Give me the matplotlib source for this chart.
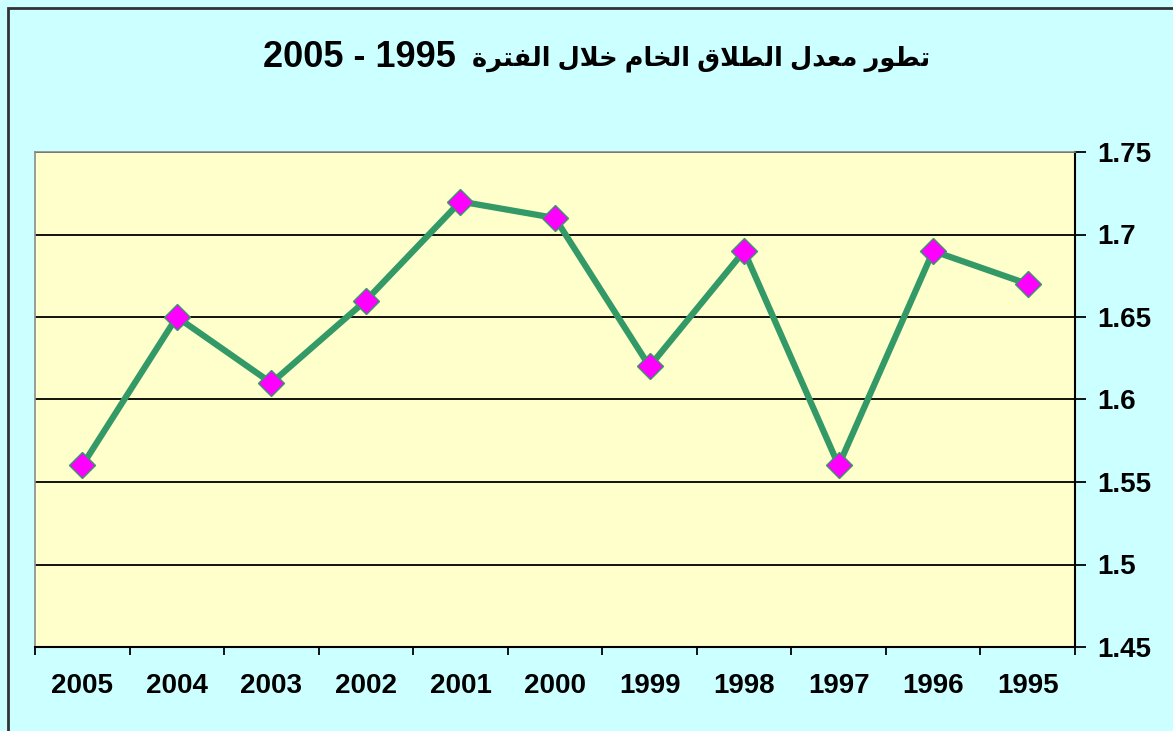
import matplotlib
matplotlib.use("Agg")
import matplotlib.pyplot as plt
from matplotlib.patches import Rectangle
from matplotlib.ticker import FixedLocator, NullFormatter

years = ['2005', '2004', '2003', '2002', '2001', '2000',
         '1999', '1998', '1997', '1996', '1995']
rates = [1.56, 1.65, 1.61, 1.66, 1.72, 1.71, 1.62, 1.69, 1.56, 1.69, 1.67]
y_ticks = [1.45, 1.5, 1.55, 1.6, 1.65, 1.7, 1.75]
y_labels = ['1.45', '1.5', '1.55', '1.6', '1.65', '1.7', '1.75']

# title: "تطور معدل الطلاق الخام خلال الفترة 1995 - 2005"
# Arabic part written in shaped presentation forms, visual (left to right) order
words = [
  '\uFEAD\uFEEE\uFEC4\uFE97',                # تطور
  '\uFEDD\uFEAA\uFECC\uFEE3',                # معدل
  '\uFED5\uFEFC\uFEC4\uFEDF\uFE8D',          # الطلاق
  '\uFEE1\uFE8E\uFEA8\uFEDF\uFE8D',          # الخام
  '\uFEDD\uFEFC\uFEA7',                      # خلال
  '\uFE93\uFEAE\uFE98\uFED4\uFEDF\uFE8D',    # الفترة
]
title_years = '2005 - 1995'
title_words = ' '.join(reversed(words))

CYAN = '#CCFFFF'
YELLOW = '#FFFFCC'
GREEN = '#339966'
MAGENTA = '#FF00FF'
FONT = ['Liberation Sans', 'DejaVu Sans']
W, H = 1173., 731.

fig = plt.figure(figsize=(11.73, 7.31), dpi=100)
fig.patch.set_facecolor(CYAN)

# outer chart border (cut off on right and bottom)
fig.patches.append(Rectangle((8 / W, -0.05), 1.2, 1.05 - 8 / H,
                             transform=fig.transFigure, fill=False,
                             edgecolor='#333333', linewidth=2))

ax = fig.add_axes([35 / W, 84 / H, 1040 / W, 495 / H])
ax.set_facecolor(YELLOW)

x = list(range(len(years)))
ax.plot(x, rates, color=GREEN, linewidth=4.5, marker='D', markersize=13.5,
        markerfacecolor=MAGENTA, markeredgecolor=GREEN, markeredgewidth=1,
        zorder=3)

ax.set_xlim(-0.5, len(years) - 0.5)
ax.set_ylim(1.45, 1.75)

# x: ticks at category borders, labels at centres
ax.xaxis.set_major_locator(FixedLocator([i - 0.5 for i in range(len(years) + 1)]))
ax.xaxis.set_major_formatter(NullFormatter())
ax.xaxis.set_minor_locator(FixedLocator(x))
ax.set_xticklabels(years, minor=True)
ax.tick_params(axis='x', which='major', direction='out', length=6, width=1.3,
               color='black')
ax.tick_params(axis='x', which='minor', length=0, pad=19, labelsize=20)

# y axis on the right
ax.yaxis.tick_right()
ax.set_yticks(y_ticks)
ax.set_yticklabels(y_labels)
ax.tick_params(axis='y', direction='out', length=8, width=1.3, color='black',
               pad=8, labelsize=20)
for lab in ax.get_xticklabels(minor=True) + ax.get_yticklabels():
  lab.set_fontfamily(FONT)
  lab.set_fontweight('bold')

ax.grid(True, axis='y', color='black', linewidth=1.3)
ax.set_axisbelow(True)

ax.spines['left'].set_color('#8c8c8c')
ax.spines['top'].set_color('#8c8c8c')
ax.spines['left'].set_linewidth(1.2)
ax.spines['top'].set_linewidth(1.2)
ax.spines['right'].set_color('black')
ax.spines['bottom'].set_color('black')
ax.spines['right'].set_linewidth(1.5)
ax.spines['bottom'].set_linewidth(1.5)

fig.text(263 / W, 1 - 67 / H, title_years, ha='left', va='baseline',
         fontsize=26, fontweight='bold', family=FONT)
t = fig.text(930 / W, 1 - 66 / H, title_words, ha='right', va='baseline',
             fontsize=20, fontweight='bold', family=FONT)
# shrink the Arabic part so it fills the same width as in the original
renderer = fig.canvas.get_renderer()
width = t.get_window_extent(renderer).width
t.set_fontsize(20 * 458. / width)

plt.savefig('out.png', dpi=100, facecolor=fig.get_facecolor())
plt.close()
